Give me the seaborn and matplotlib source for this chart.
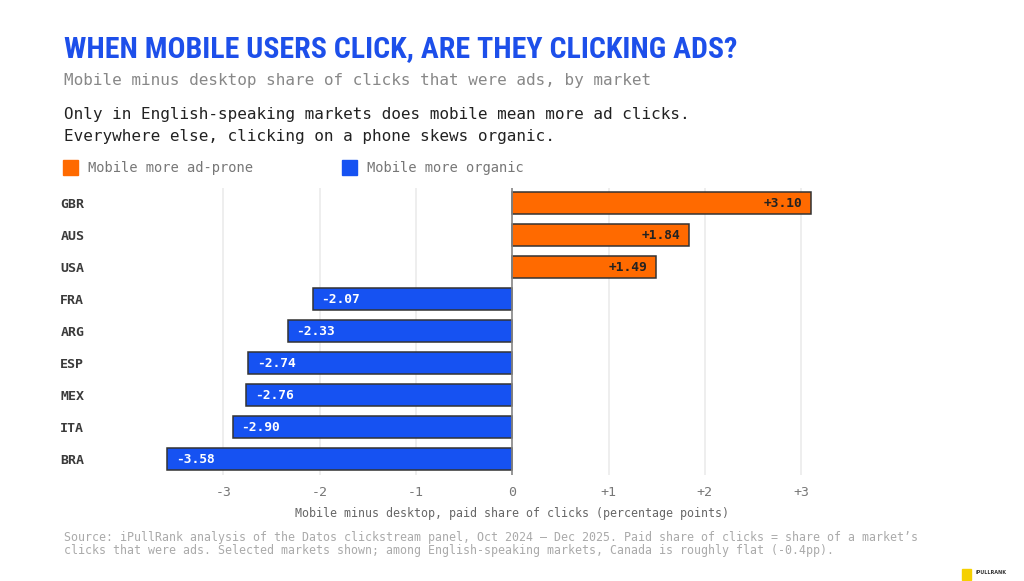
import seaborn as sns
import pandas as pd
import matplotlib.pyplot as plt
from matplotlib.patches import Rectangle

orange = "#FF6A00"
blue = "#1652F2"
title_blue = "#1D4FEA"
mono = "DejaVu Sans Mono"

markets = ["GBR", "AUS", "USA", "FRA", "ARG", "ESP", "MEX", "ITA", "BRA"]
diff = [3.10, 1.84, 1.49, -2.07, -2.33, -2.74, -2.76, -2.90, -3.58]
ticks = [-3, -2, -1, 0, 1, 2, 3]
tick_labels = ["-3", "-2", "-1", "0", "+1", "+2", "+3"]

df = pd.DataFrame({"market": markets, "diff": diff})
df["side"] = ["ad" if v > 0 else "organic" for v in df["diff"]]

W, H = 1024, 581
def fx(px):
    return px / W
def fy(px):
    return 1 - px / H

sns.set_style("white")
fig = plt.figure(figsize=(W / 100, H / 100), dpi=100)
ax = fig.add_axes([fx(127), fy(475), fx(830) - fx(127), fy(188) - fy(475)])

sns.barplot(data=df, y="market", x="diff", hue="side", order=markets,
            palette={"ad": orange, "organic": blue}, dodge=False, legend=False,
            saturation=1, edgecolor="#333333", linewidth=1.1, width=0.69,
            ax=ax, zorder=3)

ax.set_xlim(-4.0, 3.3)
ax.set_ylim(8.5, -0.47)
ax.set_xticks(ticks)
ax.set_xticklabels(tick_labels, family=mono, fontsize=9.5, color="#777777")
ax.grid(axis="x", color="#EBEBEB", lw=1.2, zorder=0)
ax.grid(axis="y", visible=False)
ax.axvline(0, color="#888888", lw=1.2, zorder=4)
for s in ax.spines.values():
    s.set_visible(False)
ax.tick_params(axis="x", length=0, pad=8)
ax.tick_params(axis="y", length=0, pad=48)
for lab in ax.get_yticklabels():
    lab.set_horizontalalignment("left")
    lab.set_family(mono)
    lab.set_fontsize(9.5)
    lab.set_fontweight("bold")
    lab.set_color("#3a3a3a")
ax.set_ylabel("")
# label is centred on the zero line, not on the axes
ax.set_xlabel("Mobile minus desktop, paid share of clicks (percentage points)",
              family=mono, fontsize=8.4, color="#666666", labelpad=6,
              x=(512 - 127) / (830 - 127))

for i, v in enumerate(diff):
    if v > 0:
        ax.text(v - 0.09, i, f"+{v:.2f}", ha="right", va="center", family=mono,
                fontsize=9.3, fontweight="bold", color="#222222", zorder=5)
    else:
        ax.text(v + 0.09, i, f"{v:.2f}", ha="left", va="center", family=mono,
                fontsize=9.3, fontweight="bold", color="white", zorder=5)

fig.text(fx(64), fy(57), "WHEN MOBILE USERS CLICK, ARE THEY CLICKING ADS?",
         family=["Roboto Condensed", "Noto Sans Condensed", "Roboto"],
         fontstretch="condensed", fontweight="bold",
         fontsize=21.5, color=title_blue, va="baseline")
fig.text(fx(64), fy(85), "Mobile minus desktop share of clicks that were ads, by market",
         family=mono, fontsize=11.5, color="#888888", va="baseline")
fig.text(fx(64), fy(119), "Only in English-speaking markets does mobile mean more ad clicks.",
         family=mono, fontsize=11.5, color="#222222", va="baseline")
fig.text(fx(64), fy(141), "Everywhere else, clicking on a phone skews organic.",
         family=mono, fontsize=11.5, color="#222222", va="baseline")

# legend
for x0, col, lab in [(63, orange, "Mobile more ad-prone"), (342, blue, "Mobile more organic")]:
    fig.add_artist(Rectangle((fx(x0), fy(175)), fx(15), fy(160) - fy(175),
                             transform=fig.transFigure, color=col))
    fig.text(fx(x0 + 25), fy(168), lab, family=mono, fontsize=9.9,
             color="#777777", va="center")

fig.text(fx(64), fy(541),
         "Source: iPullRank analysis of the Datos clickstream panel, Oct 2024 \u2013 Dec 2025. "
         "Paid share of clicks = share of a market\u2019s",
         family=mono, fontsize=8.4, color="#AAAAAA", va="baseline")
fig.text(fx(64), fy(554),
         "clicks that were ads. Selected markets shown; among English-speaking markets, "
         "Canada is roughly flat (-0.4pp).",
         family=mono, fontsize=8.4, color="#AAAAAA", va="baseline")

# logo
fig.add_artist(Rectangle((fx(962), fy(580)), fx(9), fy(569) - fy(580),
                         transform=fig.transFigure, color="#F5D000"))
fig.text(fx(976), fy(572), "iPULLRANK", family="DejaVu Sans", fontsize=3.5,
         fontweight="bold", color="#333333", va="center")

fig.savefig("out.png", dpi=100, facecolor="white")
